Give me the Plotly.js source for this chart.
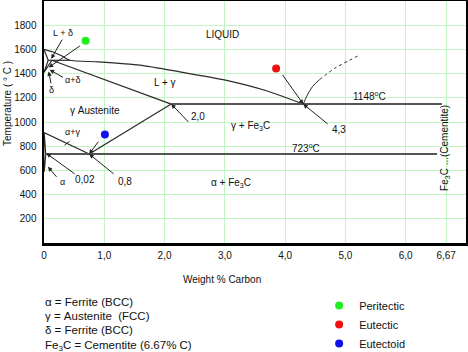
<!DOCTYPE html>
<html><head><meta charset="utf-8">
<script src="https://cdn.plot.ly/plotly-3.0.1.min.js"></script>
<style>html,body{margin:0;padding:0;background:#fff}#chart{width:468px;height:352px}</style>
</head><body><div id="chart"></div>
<script>
// ---- phase boundaries (wt% C, deg C) ----
const liquidusC = [0, 0.15, 0.3, 0.43, 0.9, 1.59, 2.25, 3.01, 3.69, 4.3];
const liquidusT = [1600, 1578, 1545, 1510, 1497, 1470, 1415, 1346, 1258, 1148];
const deltaSolidusC = [0, 0.07];
const deltaSolidusT = [1600, 1510];
const peritecticC = [0.07, 0.43];
const peritecticT = [1510, 1510];
const deltaGammaC = [0.07, 0, 0.13];
const deltaGammaT = [1510, 1410, 1510];
const gammaSolidusC = [0.13, 2.11];
const gammaSolidusT = [1510, 1148];
const acmC = [0.75, 2.11];
const acmT = [735, 1148];
const a3C = [0, 0.75];
const a3T = [912, 735];
const alphaC = [0, 0.025, 0.01, 0];
const alphaT = [912, 735, 640, 590];
const eutecticLineC = [2.11, 6.6];
const eutecticLineT = [1148, 1148];
const eutectoidLineC = [0.02, 6.52];
const eutectoidLineT = [735, 735];
const cementiteSolidC = [4.3, 4.36, 4.45, 4.57];
const cementiteSolidT = [1148, 1215, 1290, 1350];
const cementiteDotC = [4.57, 4.82, 5.07, 5.23];
const cementiteDotT = [1350, 1443, 1511, 1552];

// ---- invariant-point markers ----
const pointNames = ['Peritectic', 'Eutectic', 'Eutectoid'];
const pointC = [0.69, 3.85, 1.01];
const pointT = [1671, 1443, 897];
const pointColors = ['#22ee22', '#ee1111', '#1111ee'];

// ---- pointer arrows (tail -> head) ----
const arrowTailC = [0.315, 0.62, 0.34, 0.12, 0.92, 1.18, 2.42, 3.94, 4.73, 0.535, 0.23, 0.45];
const arrowTailT = [1693, 1637, 1362, 1307, 850, 562, 988, 1401, 974, 562, 534, 850];
const arrowHeadC = [0.12, 0.078, 0.094, 0.078, 0.75, 0.75, 2.11, 4.3, 4.3, 0.04, 0.066, 0.34];
const arrowHeadT = [1522, 1451, 1431, 1418, 735, 735, 1148, 1148, 1148, 741, 630, 809];
const arrowHeadStyle = [2, 2, 2, 2, 2, 2, 2, 2, 2, 2, 2, 0];

// ---- region / point labels ----
const labelText = ['L + δ', 'α+δ', 'δ', 'γ Austenite', 'L + γ', 'LIQUID', '2,0', 'γ + Fe<sub>3</sub>C',
  '1148<sup>o</sup>C', '4,3', 'α+γ', '723<sup>o</sup>C', '0,02', 'α', '0,8', 'α + Fe<sub>3</sub>C'];
const labelC = [0.315, 0.48, 0.12, 0.85, 2.0, 2.96, 2.56, 3.43, 5.4, 4.9, 0.48, 4.35, 0.674, 0.315, 1.34, 3.11];
const labelT = [1734, 1348, 1266, 1098, 1323, 1723, 1043, 966, 1217, 939, 919, 782, 526, 506, 506, 492];
const labelSize = [9, 9, 9, 10, 10, 10, 10, 10, 10, 10, 9, 10, 10, 9, 10, 10];

// ---- axes ----
const xTickVals = [0, 1, 2, 3, 4, 5, 6, 6.67];
const xTickText = ['0', '1,0', '2,0', '3,0', '4,0', '5,0', '6,0', '6,67'];
const yTickVals = [200, 400, 600, 800, 1000, 1200, 1400, 1600, 1800];
const yTickText = ['200', '400', '600', '800', '1000', '1200', '1400', '1600', '1800'];

// ---- key text ----
const keyLines = ['α = Ferrite (BCC)', 'γ = Austenite  (FCC)', 'δ = Ferrite (BCC)', 'Fe<sub>3</sub>C = Cementite (6.67% C)'];

const FONT = 'Liberation Sans, Arial, Helvetica, sans-serif';
const lineStyle = {color: '#2a2a2a', width: 1.2};

function seg(x, y, extra) {
  return Object.assign({x: x, y: y, mode: 'lines', type: 'scatter', showlegend: false,
    hoverinfo: 'skip', line: lineStyle}, extra || {});
}

const traces = [
  seg(liquidusC, liquidusT, {line: {color: '#2a2a2a', width: 1.2, shape: 'spline', smoothing: 0.6}}),
  seg(deltaSolidusC, deltaSolidusT),
  seg(peritecticC, peritecticT),
  seg(deltaGammaC, deltaGammaT),
  seg(gammaSolidusC, gammaSolidusT),
  seg(acmC, acmT),
  seg(a3C, a3T),
  seg(alphaC, alphaT, {line: {color: '#2a2a2a', width: 1.6}}),
  seg(eutecticLineC, eutecticLineT, {line: {color: '#555', width: 2}}),
  seg(eutectoidLineC, eutectoidLineT, {line: {color: '#555', width: 2}}),
  seg(cementiteSolidC, cementiteSolidT, {line: {color: '#2a2a2a', width: 1, shape: 'spline'}}),
  seg(cementiteDotC, cementiteDotT, {line: {color: '#2a2a2a', width: 1, dash: 'dot', shape: 'spline'}})
];

pointNames.forEach((n, i) => {
  traces.push({x: [pointC[i]], y: [pointT[i]], type: 'scatter', mode: 'markers', name: n,
    marker: {color: pointColors[i], size: 8}, showlegend: true, hoverinfo: 'skip'});
});

const annotations = [];
arrowTailC.forEach((_, i) => {
  annotations.push({x: arrowHeadC[i], y: arrowHeadT[i], ax: arrowTailC[i], ay: arrowTailT[i],
    xref: 'x', yref: 'y', axref: 'x', ayref: 'y', text: '', showarrow: true,
    arrowhead: arrowHeadStyle[i], arrowsize: 0.9, arrowwidth: 1, arrowcolor: '#222', standoff: 0, startstandoff: 0});
});
labelText.forEach((t, i) => {
  annotations.push({x: labelC[i], y: labelT[i], xref: 'x', yref: 'y', text: t, showarrow: false,
    font: {family: FONT, size: labelSize[i], color: '#111'}});
});
// cementite vertical label
annotations.push({x: 6.64, y: 788, xref: 'x', yref: 'y', text: 'Fe<sub>3</sub>C ...(Cementite)',
  textangle: -90, showarrow: false, font: {family: FONT, size: 10, color: '#111'}});
// axis titles
annotations.push({x: -0.085, y: 0.575, xref: 'paper', yref: 'paper', xanchor: 'center', yanchor: 'middle',
  text: 'Temperature ( ° C )', textangle: -90, showarrow: false, font: {family: FONT, size: 10, color: '#111'}});
annotations.push({x: 0.422, y: -0.149, xref: 'paper', yref: 'paper', xanchor: 'center', yanchor: 'middle',
  text: 'Weight % Carbon', showarrow: false, font: {family: FONT, size: 10, color: '#111'}});
// key lines
const keyY = [-0.244, -0.302, -0.36, -0.425];
keyLines.forEach((t, i) => {
  annotations.push({x: -0.002, y: keyY[i], xref: 'paper', yref: 'paper', xanchor: 'left', yanchor: 'middle',
    text: t, showarrow: false, font: {family: FONT, size: 11.5, color: '#111'}});
});

const layout = {
  width: 468, height: 352,
  margin: {l: 44, r: 2, t: 1, b: 109, pad: 0, autoexpand: false},
  paper_bgcolor: '#fff', plot_bgcolor: '#fff',
  font: {family: FONT, size: 10, color: '#111'},
  showlegend: true,
  legend: {x: 0.652, y: -0.198, xanchor: 'left', yanchor: 'top', font: {family: FONT, size: 11, color: '#111'},
    bgcolor: 'rgba(0,0,0,0)', borderwidth: 0, tracegroupgap: 0},
  xaxis: {range: [0, 7], tickvals: xTickVals, ticktext: xTickText, showgrid: true, gridcolor: '#c2f5c2',
    gridwidth: 1, zeroline: false, showline: true, linecolor: '#000', linewidth: 2.5, mirror: true,
    ticks: '', ticklabelstandoff: 1, tickfont: {family: FONT, size: 10, color: '#111'}, fixedrange: true},
  yaxis: {range: [0, 2000], tickvals: yTickVals, ticktext: yTickText, showgrid: true, gridcolor: '#c2f5c2',
    gridwidth: 1, zeroline: false, showline: true, linecolor: '#000', linewidth: 2.5, mirror: true,
    ticks: '', ticklabelstandoff: 3, tickfont: {family: FONT, size: 10, color: '#111'}, fixedrange: true},
  annotations: annotations
};

Plotly.newPlot('chart', traces, layout, {displayModeBar: false, staticPlot: true});
</script></body></html>
